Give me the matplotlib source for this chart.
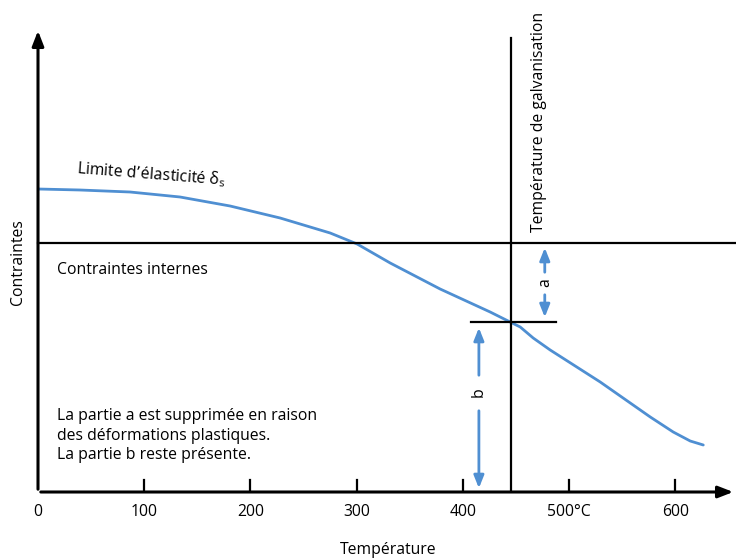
import matplotlib
matplotlib.use('Agg')
import matplotlib.pyplot as plt

plt.rcParams['font.family'] = ['Open Sans', 'DejaVu Sans']

# Curve (temperature, stress in arbitrary units)
temp = [0, 39.5, 86.6, 133.7, 180.8, 227.9, 275, 300.4, 331.5, 378.5, 425.6,
        446.3, 453.9, 466.1, 482.1, 529.2, 576.3, 597.9, 613.9, 626.2]
stress = [303, 302, 300, 295, 286, 274, 259, 248, 229, 203, 180,
          169, 165, 154, 142, 110, 75, 60, 51, 47]

tick_pos = [0, 100, 200, 300, 400, 500, 600]
tick_labels = ['0', '100', '200', '300', '400', '500°C', '600']

galva_temp = 445
internal_level = 249
galva_stress = 170

blue = '#4f8fd2'
fs = 11.3

fig = plt.figure(figsize=(7.36, 5.6), dpi=100)
ax = fig.add_axes([38 / 736, 68 / 560, 698 / 736, 464 / 560])
ax.set_xlim(0, 657)
ax.set_ylim(0, 464)
ax.axis('off')

# axes with arrows
ax.annotate('', xy=(657, 0), xytext=(0, 0),
            arrowprops=dict(arrowstyle='-|>,head_length=0.9,head_width=0.35', color='black', lw=2.2),
            annotation_clip=False)
ax.annotate('', xy=(0, 464), xytext=(0, 0),
            arrowprops=dict(arrowstyle='-|>,head_length=0.9,head_width=0.35', color='black', lw=2.2),
            annotation_clip=False)

# ticks
for t, lab in zip(tick_pos, tick_labels):
    if t > 0:
        ax.plot([t, t], [0, 12], color='black', lw=1.6)
    ax.text(t, -20, lab, ha='center', va='center', fontsize=fs)

# curve
ax.plot(temp, stress, color=blue, lw=2, solid_joinstyle='round', solid_capstyle='round')

# reference lines
ax.plot([0, 657], [internal_level, internal_level], color='black', lw=1.6, clip_on=False)
ax.plot([galva_temp, galva_temp], [0, 454], color='black', lw=1.6)
ax.plot([408, 488], [galva_stress, galva_stress], color='black', lw=1.6)

# arrow a
arr = dict(arrowstyle='-|>,head_length=0.75,head_width=0.3', color=blue, lw=2)
ax.annotate('', xy=(477, internal_level - 2), xytext=(477, 217), arrowprops=arr)
ax.annotate('', xy=(477, galva_stress + 2), xytext=(477, 200), arrowprops=arr)
ax.text(477, 209, 'a', rotation=90, ha='center', va='center', fontsize=fs)

# arrow b
ax.annotate('', xy=(415, galva_stress - 3), xytext=(415, 114), arrowprops=arr)
ax.annotate('', xy=(415, 1), xytext=(415, 84), arrowprops=arr)
ax.text(415, 100, 'b', rotation=90, ha='center', va='center', fontsize=fs)

# labels
ax.text(36, 302, "Limite d’élasticité $\\mathregular{\\delta_s}$", rotation=-4.5,
        ha='left', va='bottom', fontsize=fs)
ax.text(18, 222, 'Contraintes internes', ha='left', va='center', fontsize=fs)
ax.text(18, 84, 'La partie a est supprimée en raison\ndes déformations plastiques.\nLa partie b reste présente.',
        ha='left', va='top', fontsize=fs, linespacing=1.3)
ax.text(472, 260, 'Température de galvanisation', rotation=90, ha='center', va='bottom', fontsize=fs)

fig.text(388 / 736, 1 - 550 / 560, 'Température', ha='center', va='center', fontsize=fs)
fig.text(18 / 736, 1 - 262 / 560, 'Contraintes', rotation=90, ha='center', va='center', fontsize=fs)

fig.savefig('out.png', dpi=100)
